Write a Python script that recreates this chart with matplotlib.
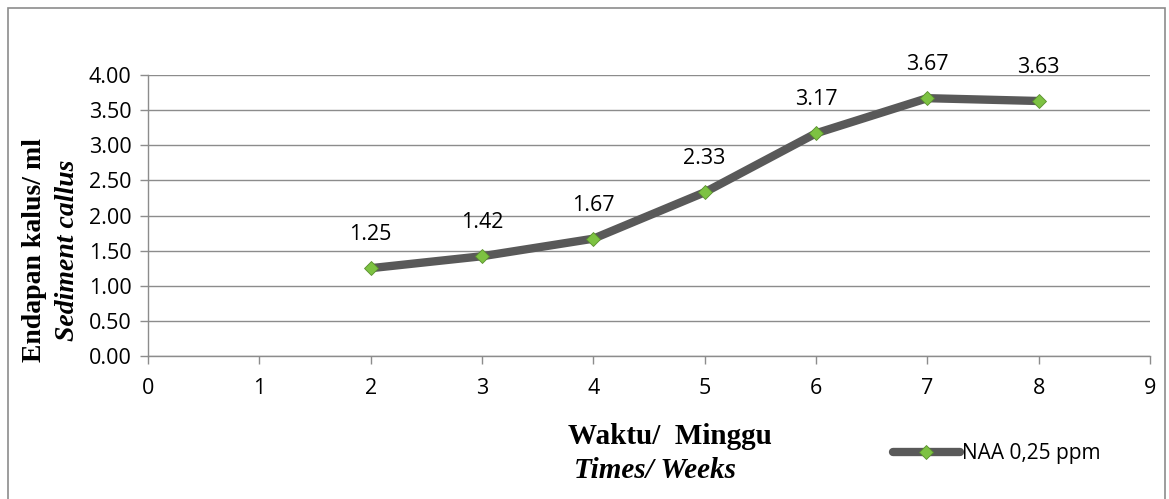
import matplotlib
matplotlib.use("Agg")
import matplotlib.pyplot as plt
from matplotlib.patches import Rectangle

weeks = [2, 3, 4, 5, 6, 7, 8]
sediment = [1.25, 1.42, 1.67, 2.33, 3.17, 3.67, 3.63]
labels = ["1.25", "1.42", "1.67", "2.33", "3.17", "3.67", "3.63"]
series_name = "NAA 0,25 ppm"

W, H = 1169, 499
fig = plt.figure(figsize=(W / 100, H / 100), dpi=100)
fig.patch.set_facecolor("white")
fig.patches.append(Rectangle((8 / W, -0.01), (1165 - 8) / W, 1 - 8 / H + 0.01,
                             transform=fig.transFigure, fill=False,
                             edgecolor="#8c8c8c", linewidth=1.2))

ax = fig.add_axes([148 / W, 1 - 356 / H, (1150 - 148) / W, (356 - 75) / H])
ax.set_xlim(0, 9)
ax.set_ylim(0, 4)
ax.set_xticks(range(0, 10))
ax.set_yticks([0, 0.5, 1, 1.5, 2, 2.5, 3, 3.5, 4])
ax.set_yticklabels([f"{v:.2f}" for v in ax.get_yticks()])
for s in ["top", "right"]:
    ax.spines[s].set_visible(False)
for s in ["left", "bottom"]:
    ax.spines[s].set_color("#8c8c8c")
    ax.spines[s].set_linewidth(1.0)
ax.yaxis.grid(True, color="#8c8c8c", linewidth=1.0)
ax.set_axisbelow(True)
ax.tick_params(axis="both", colors="#8c8c8c", labelcolor="black",
               labelsize=15.5, length=6, width=1.0)
ax.tick_params(axis="x", pad=10)
ax.tick_params(axis="y", pad=6)
for lab in ax.get_xticklabels() + ax.get_yticklabels():
    lab.set_family("Open Sans")

ax.plot(weeks, sediment, color="#595959", linewidth=6, solid_capstyle="round",
        marker="D", markersize=7, markerfacecolor="#7dc242",
        markeredgecolor="#5a8f2e", markeredgewidth=0.6, label=series_name, zorder=3)

for x, y, t in zip(weeks, sediment, labels):
    ax.annotate(t, (x, y), xytext=(0, 24), textcoords="offset points",
                ha="center", va="center", fontsize=15.5, family="Open Sans")

fig.text(35 / W, 1 - 250 / H, "Endapan kalus/ ml", rotation=90, ha="center", va="center",
         family="Liberation Serif", fontweight="bold", fontsize=20)
fig.text(67 / W, 1 - 250 / H, "Sediment callus", rotation=90, ha="center", va="center",
         family="Liberation Serif", fontweight="bold", style="italic", fontsize=20)

fig.text(670 / W, 1 - 437 / H, "Waktu/  Minggu", ha="center", va="center",
         family="Liberation Serif", fontweight="bold", fontsize=21)
fig.text(655 / W, 1 - 471 / H, "Times/ Weeks", ha="center", va="center",
         family="Liberation Serif", fontweight="bold", style="italic", fontsize=21)

leg = fig.legend(loc="center left", bbox_to_anchor=(893 / W, 1 - 454 / H),
                 frameon=False, prop={"family": "Open Sans", "size": 15},
                 handlelength=3.2, handletextpad=0.1, borderaxespad=0, borderpad=0)

fig.savefig("out.png", dpi=100)
